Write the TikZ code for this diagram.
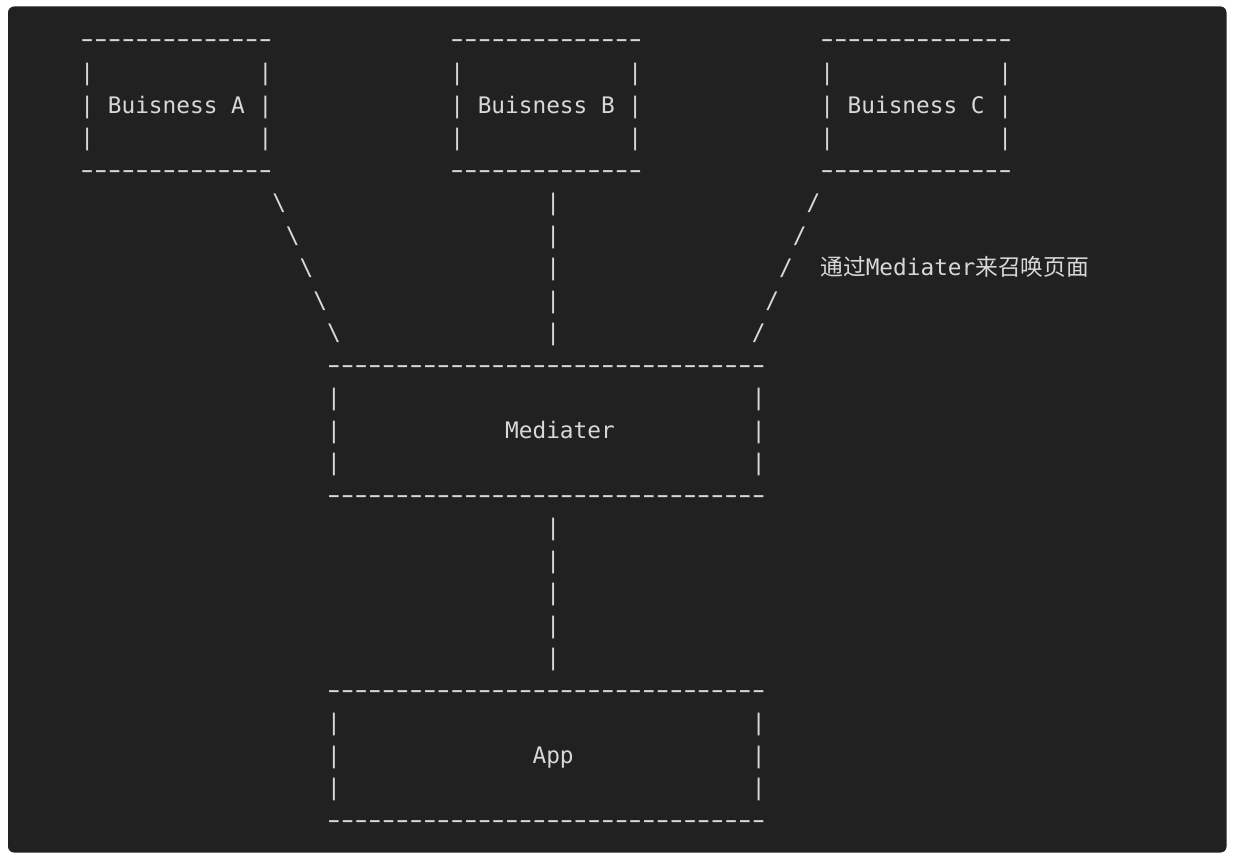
\documentclass[tikz,border=0pt]{standalone}
\usepackage{fontspec}
\setmonofont{DejaVu Sans Mono}
\newfontfamily\cjkfont{Noto Sans CJK SC}
\definecolor{bg}{HTML}{212121}
\definecolor{fg}{HTML}{D8D8D8}
\newcommand\putch[4]{\node[asc] (#1) at ({80.45+(#2)*13.7},{-(48+(#3)*32.5)}) {#4};}
\newcommand\hy{\makebox[13.7pt]{\scalebox{1.65}[1.1]{-}}}
\newcommand\dashrow[1]{\foreach \i in {1,...,#1}{\hy}}
\begin{document}
\begin{tikzpicture}[x=1pt,y=1pt,
  asc/.style={anchor=base west, inner sep=0pt, outer sep=0pt, text=fg,
    font=\ttfamily\fontsize{22.76}{27}\selectfont}]
\useasboundingbox (0,0) rectangle (1234,-859);
\fill[bg, rounded corners=6pt] (8,-6.5) rectangle (1226.5,-852.5);

% Business boxes
\foreach \c/\n/\l in {0/a/A,27/b/B,54/c/C}{
  \putch{\n T}{\c}{0}{\dashrow{14}}
  \foreach \r in {1,2,3}{
    \putch{\n L\r}{\c}{\r}{|}
    \putch{\n R\r}{\c+13}{\r}{|}
  }
  \putch{\n lab}{\c+2}{2}{Buisness \l}
  \putch{\n B}{\c}{4}{\dashrow{14}}
}

% connectors from business boxes to Mediater
\foreach \r/\a/\b in {5/14/53, 6/15/52, 7/16/51, 8/17/50, 9/18/49}{
  \putch{bs\r}{\a}{\r}{\textbackslash}
  \putch{vp\r}{34}{\r}{|}
  \putch{sl\r}{\b}{\r}{/}
}
\putch{note}{54}{7}{{\cjkfont 通过}Mediater{\cjkfont 来召唤页面}}

% Mediater and App boxes
\foreach \r in {10,14,20,24}{
  \putch{d\r}{18}{\r}{\dashrow{32}}
}
\foreach \r in {11,12,13,21,22,23}{
  \putch{l\r}{18}{\r}{|}
  \putch{r\r}{49}{\r}{|}
}
\putch{med}{31}{12}{Mediater}
\putch{app}{33}{22}{App}

% connector Mediater -> App
\foreach \r in {15,...,19}{
  \putch{v\r}{34}{\r}{|}
}
\end{tikzpicture}
\end{document}
